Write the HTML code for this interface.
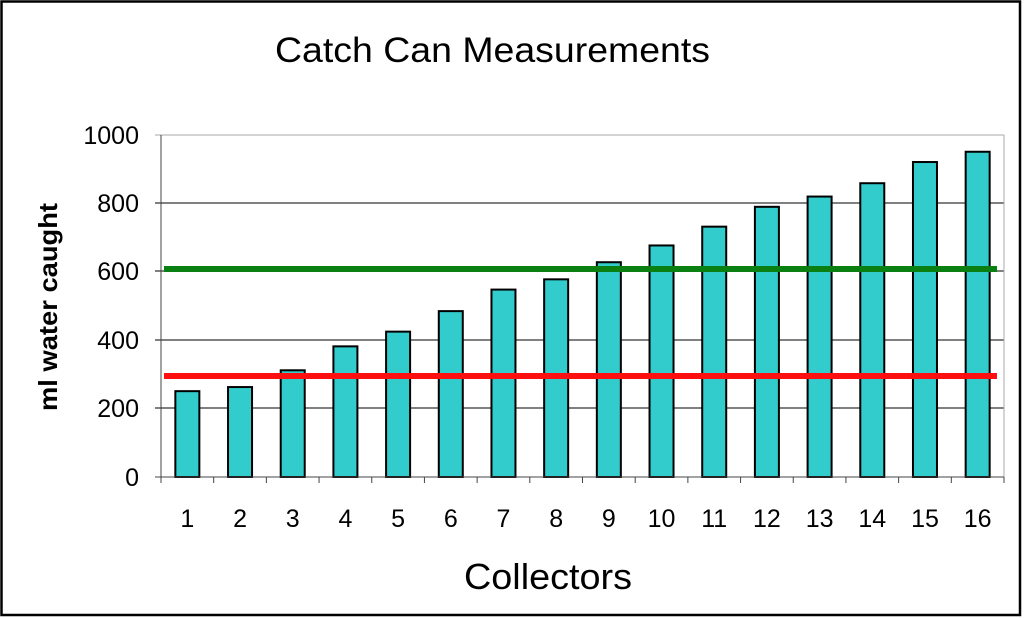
<!DOCTYPE html>
<html><head><style>body{margin:0;background:#fff}svg{display:block}</style></head><body>
<svg width="1024" height="618" xmlns="http://www.w3.org/2000/svg" font-family="Liberation Sans, Arial, sans-serif">
<rect x="0" y="0" width="1024" height="618" fill="#fff"/>
<rect x="1.5" y="1.5" width="1018.5" height="613.5" fill="none" stroke="#000" stroke-width="2.5"/>
<text x="275" y="62" font-size="35" textLength="435" lengthAdjust="spacingAndGlyphs">Catch Can Measurements</text>
<g stroke="#000" stroke-width="1">
<line x1="155" y1="203" x2="1004" y2="203"/>
<line x1="155" y1="271" x2="1004" y2="271"/>
<line x1="155" y1="340" x2="1004" y2="340"/>
<line x1="155" y1="408" x2="1004" y2="408"/>
</g>
<line x1="155" y1="135" x2="1004" y2="135" stroke="#aaa"/>
<line x1="1004" y1="135" x2="1004" y2="477" stroke="#aaa"/>
<g id="bars" fill="#33cccc" stroke="#000" stroke-width="2"></g>
<line x1="161" y1="135" x2="161" y2="483" stroke="#444" stroke-width="1"/>
<line x1="155" y1="477" x2="1004" y2="477" stroke="#444" stroke-width="1"/>
<g id="ticks" stroke="#444"></g>
<line x1="164" y1="269" x2="997" y2="269" stroke="#0a8012" stroke-width="6"/>
<line x1="164" y1="376" x2="997" y2="376" stroke="#ff1010" stroke-width="6"/>
<g font-size="25" text-anchor="end">
<text x="139" y="144">1000</text><text x="139" y="212">800</text><text x="139" y="280">600</text>
<text x="139" y="349">400</text><text x="139" y="417">200</text><text x="139" y="486">0</text>
</g>
<g id="xl" font-size="25" text-anchor="middle"></g>
<text transform="translate(57,307) rotate(-90)" font-size="26" font-weight="bold" text-anchor="middle" textLength="208" lengthAdjust="spacingAndGlyphs">ml water caught</text>
<text x="464" y="589" font-size="36" textLength="168" lengthAdjust="spacingAndGlyphs">Collectors</text>
<script>
var v=[251,263,312,382,425,485,548,578,628,677,732,790,820,859,921,951];
var ns="http://www.w3.org/2000/svg",b=document.getElementById('bars'),t=document.getElementById('ticks'),xl=document.getElementById('xl');
var w=(1004-161)/16;
for(var i=0;i<16;i++){var c=161+w*(i+.5),h=v[i]*0.342;
var r=document.createElementNS(ns,'rect');r.setAttribute('x',c-12);r.setAttribute('y',477-h);r.setAttribute('width',24);r.setAttribute('height',h);b.appendChild(r);
var l=document.createElementNS(ns,'line');var tx=161+w*(i+1);l.setAttribute('x1',tx);l.setAttribute('x2',tx);l.setAttribute('y1',477);l.setAttribute('y2',483);t.appendChild(l);
var s=document.createElementNS(ns,'text');s.setAttribute('x',c);s.setAttribute('y',527);s.textContent=i+1;xl.appendChild(s);}
</script>
</svg>
</body></html>
